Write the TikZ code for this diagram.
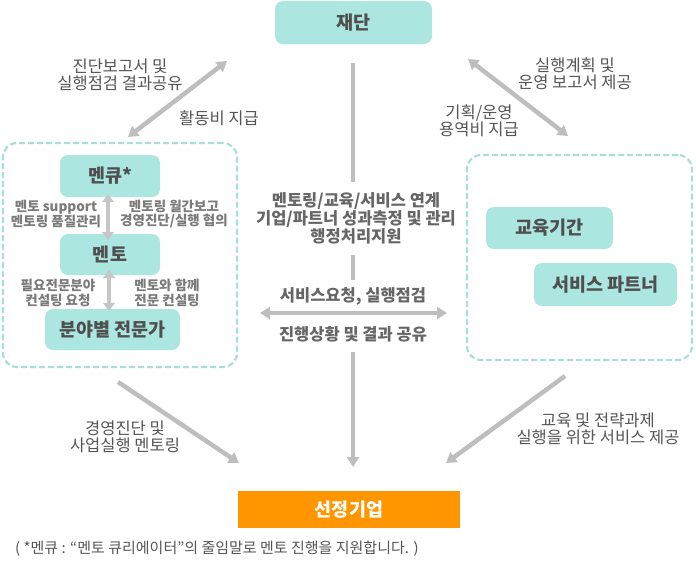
\documentclass[tikz,border=0pt]{standalone}
\usepackage{fontspec}
\setmainfont{Noto Sans CJK KR}
\usetikzlibrary{arrows.meta}
\definecolor{boxfill}{HTML}{ACE6E1}
\definecolor{dashc}{HTML}{A9DEDA}
\definecolor{arrc}{HTML}{BEBEBE}
\definecolor{smallarrc}{HTML}{C6C6C6}
\definecolor{txtc}{HTML}{555555}
\definecolor{smallc}{HTML}{7A7A7A}
\definecolor{boxtxt}{HTML}{4F4F4F}
\definecolor{orangec}{HTML}{FF9600}
\tikzset{
  tealbox/.style={fill=boxfill, rounded corners=8pt, text=boxtxt, inner sep=0pt,
    font=\fontsize{18.5}{20}\selectfont\bfseries},
  orangebox/.style={fill=orangec, text=white, inner sep=0pt,
    font=\fontsize{18.5}{20}\selectfont\bfseries},
  groupbox/.style={draw=dashc, line width=2.2pt, dash pattern=on 6pt off 3pt,
    rounded corners=14pt, inner sep=0pt},
  difflabel/.style={text=txtc, align=center, inner sep=0pt,
    font=\fontsize{16.5}{17}\selectfont},
  centerlabel/.style={text=txtc!90, align=center, inner sep=0pt,
    font=\fontsize{16.5}{16.8}\selectfont\bfseries},
  smalllabel/.style={text=smallc, align=center, inner sep=0pt,
    font=\fontsize{13.5}{14.5}\selectfont\bfseries},
  bigarrow/.style={draw=arrc, line width=4.5pt, -{Triangle[length=10pt,width=12pt]}},
  bigdouble/.style={draw=arrc, line width=4.5pt, {Triangle[length=10pt,width=12pt]}-{Triangle[length=10pt,width=12pt]}},
  plainline/.style={draw=arrc, line width=4pt},
  smalldouble/.style={draw=smallarrc, line width=4pt, {Triangle[length=8pt,width=12pt]}-{Triangle[length=8pt,width=12pt]}},
}
\begin{document}
\begin{tikzpicture}[x=1pt,y=-1pt]
\useasboundingbox (0,0) rectangle (696,566);

% boxes
\node[tealbox, minimum width=157pt, minimum height=43pt] (jaedan) at (353.5,22.5) {재단};
\node[groupbox, minimum width=234pt, minimum height=224pt] (leftgrp) at (120,255) {};
\node[groupbox, minimum width=225pt, minimum height=205pt] (rightgrp) at (579.5,257.5) {};
\node[tealbox, minimum width=100pt, minimum height=42pt] (mencu) at (110,176) {멘큐*};
\node[tealbox, minimum width=100pt, minimum height=41pt] (mento) at (110,254.5) {멘토};
\node[tealbox, minimum width=135pt, minimum height=41pt] (expert) at (112.5,329.5) {분야별 전문가};
\node[tealbox, minimum width=127pt, minimum height=42pt] (edu) at (549.5,228) {교육기간};
\node[tealbox, minimum width=143pt, minimum height=43pt] (partner) at (605.5,284.5) {서비스 파트너};
\node[orangebox, minimum width=222pt, minimum height=37pt] (selected) at (349,509.5) {선정기업};

% inner arrows of the left group
\draw[smalldouble] ([xshift=-2pt,yshift=3pt]mencu.south) -- ([xshift=-2pt,yshift=-6pt]mento.north);
\draw[smalldouble] ([xshift=-1pt,yshift=5pt]mento.south) -- ([xshift=-1pt,yshift=-2pt]mento.south |- expert.north);
\node[smalllabel] (l1) at (56,214) {멘토 support\\멘토링 품질관리};
\node[smalllabel] (r1) at (174,214) {멘토링 월간보고\\경영진단/실행 협의};
\node[smalllabel] (l2) at (58,293) {필요전문분야\\컨설팅 요청};
\node[smalllabel] (r2) at (167,293) {멘토와 함께\\전문 컨설팅};

% diagonal arrows at the top
\coordinate (tlA) at (128,137);
\coordinate (tlB) at (227,61);
\coordinate (trA) at (468,59);
\coordinate (trB) at (568,136);
\draw[bigdouble] (tlA) -- (tlB);
\draw[bigdouble] (trA) -- (trB);
\node[difflabel] (tl1) at (120,75) {진단보고서 및\\실행점검 결과공유};
\node[difflabel] (tl2) at (219,118) {활동비 지급};
\node[difflabel] (tr1) at (575,73.5) {실행계획 및\\운영 보고서 제공};
\node[difflabel] (tr2) at (479,120.5) {기획/운영\\용역비 지급};

% centre column
\node[centerlabel] (c1) at (356,218.5) {멘토링/교육/서비스 연계\\기업/파트너 성과측정 및 관리\\행정처리지원};
\node[centerlabel] (c2) at (353,296) {서비스요청, 실행점검};
\node[centerlabel] (c3) at (353,334) {진행상황 및 결과 공유};
\coordinate (v1a) at (353,63);
\coordinate (v1b) at (353,182);
\coordinate (v2a) at (353,255);
\coordinate (v2b) at (353,280);
\coordinate (v3a) at (353,352);
\coordinate (v3b) at (353,467);
\draw[plainline] (v1a) -- (v1b);
\draw[plainline] (v2a) -- (v2b);
\draw[bigarrow] (v3a) -- (v3b);
\coordinate (hA) at (260,313);
\coordinate (hB) at (447,313);
\draw[bigdouble] (hA) -- (hB);

% diagonal arrows at the bottom
\coordinate (blA) at (118,382);
\coordinate (blB) at (239,463);
\coordinate (brA) at (565,376);
\coordinate (brB) at (446,463);
\draw[bigarrow] (blA) -- (blB);
\draw[bigarrow] (brA) -- (brB);
\node[difflabel] (bl1) at (125,437) {경영진단 및\\사업실행 멘토링};
\node[difflabel] (br1) at (598,429) {교육 및 전략과제\\실행을 위한 서비스 제공};

% footnote
\node[text=txtc, inner sep=0pt, anchor=west, font=\fontsize{15}{16}\selectfont] (note) at (15,549)
  {( *멘큐 : “멘토 큐리에이터”의 줄임말로 멘토 진행을 지원합니다. )};
\end{tikzpicture}
\end{document}
